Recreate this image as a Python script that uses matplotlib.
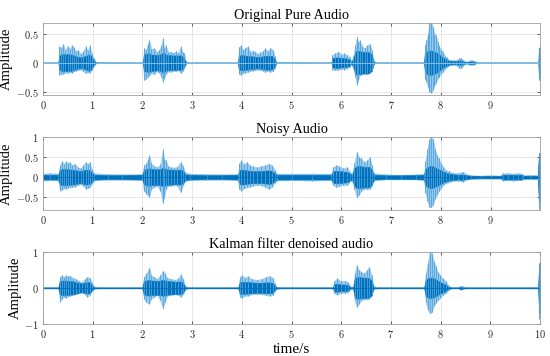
import matplotlib
matplotlib.use("Agg")
import matplotlib.pyplot as plt
import numpy as np

# envelope of each waveform:
# time knot (s), upper peak, lower peak, half-width of the dense core
t_orig = [0.00, 0.31, 0.33, 0.37, 0.41, 0.45, 0.50, 0.54, 0.58, 0.62, 0.66, 0.71, 0.76, 0.81, 0.86, 0.90, 0.94, 0.98, 1.02, 1.07,
          2.01, 2.03, 2.07, 2.11, 2.14, 2.18, 2.24, 2.29, 2.34, 2.38, 2.41, 2.44, 2.47, 2.52, 2.57, 2.62, 2.67, 2.72, 2.77, 2.81, 2.84, 2.87, 2.90,
          3.92, 3.94, 3.98, 4.02, 4.07, 4.12, 4.17, 4.22, 4.27, 4.32, 4.37, 4.42, 4.47, 4.52, 4.57, 4.62, 4.66, 4.69,
          5.80, 5.82, 5.87, 5.94, 6.00, 6.06, 6.12, 6.17, 6.20, 6.24, 6.28, 6.31, 6.34, 6.37, 6.42, 6.47, 6.52, 6.57, 6.61, 6.64, 6.67,
          7.66, 7.68, 7.71, 7.74, 7.77, 7.81, 7.84, 7.87, 7.90, 7.94, 7.97, 8.01, 8.04, 8.08, 8.12, 8.17, 8.24, 8.30, 8.37, 8.41, 8.45, 8.51, 8.58, 8.63, 8.68, 8.72,
          9.96, 9.97, 9.99]
hi_orig = [0.008, 0.008, 0.28, 0.26, 0.32, 0.22, 0.29, 0.24, 0.30, 0.27, 0.20, 0.22, 0.15, 0.20, 0.28, 0.21, 0.30, 0.16, 0.08, 0.01,
           0.008, 0.25, 0.22, 0.33, 0.39, 0.24, 0.25, 0.18, 0.22, 0.30, 0.42, 0.25, 0.30, 0.18, 0.19, 0.17, 0.20, 0.16, 0.28, 0.18, 0.16, 0.03, 0.008,
           0.008, 0.27, 0.30, 0.22, 0.26, 0.28, 0.19, 0.21, 0.19, 0.15, 0.18, 0.20, 0.25, 0.20, 0.26, 0.22, 0.12, 0.01,
           0.008, 0.14, 0.16, 0.19, 0.14, 0.16, 0.13, 0.10, 0.03, 0.12, 0.30, 0.45, 0.35, 0.39, 0.28, 0.25, 0.30, 0.33, 0.22, 0.08, 0.008,
           0.008, 0.30, 0.39, 0.50, 0.69, 0.69, 0.62, 0.50, 0.48, 0.35, 0.28, 0.22, 0.19, 0.12, 0.09, 0.05, 0.05, 0.04, 0.08, 0.08, 0.05, 0.02, 0.04, 0.04, 0.03, 0.008,
           0.008, 0.25, 0.27]
lo_orig = [-0.008, -0.008, -0.21, -0.19, -0.20, -0.17, -0.18, -0.16, -0.18, -0.15, -0.14, -0.13, -0.12, -0.15, -0.18, -0.16, -0.18, -0.12, -0.06, -0.01,
           -0.008, -0.30, -0.28, -0.24, -0.22, -0.18, -0.20, -0.15, -0.17, -0.25, -0.33, -0.27, -0.20, -0.15, -0.16, -0.14, -0.15, -0.13, -0.18, -0.14, -0.10, -0.03, -0.008,
           -0.008, -0.20, -0.21, -0.18, -0.17, -0.16, -0.14, -0.14, -0.13, -0.12, -0.13, -0.14, -0.16, -0.14, -0.16, -0.15, -0.10, -0.01,
           -0.008, -0.12, -0.13, -0.12, -0.11, -0.12, -0.10, -0.08, -0.03, -0.10, -0.25, -0.38, -0.30, -0.22, -0.20, -0.20, -0.20, -0.18, -0.15, -0.06, -0.008,
           -0.008, -0.28, -0.33, -0.42, -0.50, -0.52, -0.47, -0.40, -0.35, -0.27, -0.24, -0.18, -0.16, -0.11, -0.08, -0.05, -0.04, -0.04, -0.09, -0.10, -0.05, -0.02, -0.04, -0.04, -0.03, -0.008,
           -0.008, -0.30, -0.30]
core_orig = [0.003, 0.003, 0.12, 0.14, 0.15, 0.14, 0.15, 0.14, 0.14, 0.13, 0.11, 0.10, 0.09, 0.10, 0.12, 0.13, 0.14, 0.10, 0.04, 0.004,
             0.003, 0.14, 0.15, 0.16, 0.16, 0.14, 0.14, 0.13, 0.14, 0.15, 0.17, 0.16, 0.14, 0.13, 0.13, 0.12, 0.13, 0.12, 0.13, 0.10, 0.07, 0.015, 0.003,
             0.003, 0.12, 0.13, 0.13, 0.12, 0.12, 0.11, 0.11, 0.10, 0.10, 0.10, 0.11, 0.12, 0.12, 0.12, 0.11, 0.07, 0.004,
             0.003, 0.08, 0.09, 0.09, 0.08, 0.08, 0.07, 0.05, 0.015, 0.07, 0.18, 0.21, 0.20, 0.20, 0.19, 0.18, 0.19, 0.17, 0.14, 0.04, 0.003,
             0.003, 0.15, 0.19, 0.20, 0.21, 0.21, 0.20, 0.19, 0.18, 0.16, 0.14, 0.11, 0.09, 0.07, 0.05, 0.03, 0.03, 0.025, 0.04, 0.04, 0.02, 0.01, 0.02, 0.025, 0.015, 0.003,
             0.003, 0.25, 0.27]

t_noisy = [0.00, 0.15, 0.31, 0.34, 0.38, 0.42, 0.46, 0.50, 0.54, 0.58, 0.64, 0.70, 0.76, 0.81, 0.86, 0.90, 0.94, 0.98, 1.03, 1.30, 1.60,
           2.00, 2.03, 2.08, 2.11, 2.14, 2.18, 2.24, 2.30, 2.36, 2.41, 2.44, 2.47, 2.52, 2.58, 2.64, 2.70, 2.77, 2.82, 2.86, 2.95, 3.30, 3.60,
           3.92, 3.95, 3.99, 4.04, 4.10, 4.16, 4.22, 4.30, 4.38, 4.46, 4.54, 4.60, 4.66, 4.70, 5.00, 5.40,
           5.80, 5.83, 5.90, 5.96, 6.04, 6.12, 6.18, 6.22, 6.26, 6.31, 6.35, 6.40, 6.46, 6.52, 6.57, 6.61, 6.65, 6.90, 7.20, 7.50,
           7.66, 7.69, 7.73, 7.77, 7.80, 7.84, 7.88, 7.92, 7.96, 8.00, 8.05, 8.10, 8.16, 8.25, 8.35, 8.44, 8.50, 8.60, 8.80, 9.00, 9.20,
           9.24, 9.35, 9.45, 9.55, 9.63, 9.66, 9.80, 9.95, 9.97, 9.99]
hi_noisy = [0.09, 0.10, 0.09, 0.30, 0.40, 0.33, 0.40, 0.36, 0.38, 0.30, 0.34, 0.25, 0.22, 0.30, 0.38, 0.33, 0.38, 0.20, 0.10, 0.08, 0.07,
            0.08, 0.30, 0.35, 0.45, 0.55, 0.35, 0.28, 0.25, 0.32, 0.70, 0.45, 0.42, 0.27, 0.25, 0.24, 0.26, 0.38, 0.28, 0.12, 0.09, 0.08, 0.07,
            0.08, 0.35, 0.42, 0.32, 0.38, 0.30, 0.27, 0.25, 0.27, 0.30, 0.34, 0.30, 0.18, 0.09, 0.09, 0.09,
            0.09, 0.25, 0.30, 0.27, 0.22, 0.25, 0.12, 0.10, 0.35, 0.64, 0.50, 0.47, 0.38, 0.42, 0.50, 0.30, 0.10, 0.07, 0.06, 0.07,
            0.09, 0.40, 0.72, 0.97, 1.00, 0.97, 0.72, 0.55, 0.47, 0.35, 0.25, 0.18, 0.15, 0.11, 0.10, 0.14, 0.08, 0.05, 0.04, 0.05, 0.04,
            0.10, 0.10, 0.09, 0.10, 0.09, 0.05, 0.06, 0.05, 0.60, 0.62]
lo_noisy = [-0.09, -0.08, -0.09, -0.34, -0.32, -0.28, -0.30, -0.27, -0.26, -0.25, -0.24, -0.20, -0.18, -0.22, -0.30, -0.28, -0.25, -0.17, -0.09, -0.07, -0.07,
            -0.08, -0.35, -0.42, -0.45, -0.50, -0.30, -0.25, -0.22, -0.35, -0.66, -0.50, -0.30, -0.22, -0.22, -0.20, -0.22, -0.38, -0.20, -0.10, -0.08, -0.07, -0.07,
            -0.08, -0.30, -0.34, -0.28, -0.26, -0.24, -0.22, -0.20, -0.21, -0.24, -0.30, -0.25, -0.14, -0.09, -0.08, -0.09,
            -0.08, -0.20, -0.25, -0.22, -0.20, -0.20, -0.10, -0.10, -0.30, -0.51, -0.45, -0.35, -0.30, -0.30, -0.30, -0.22, -0.09, -0.06, -0.06, -0.06,
            -0.08, -0.40, -0.60, -0.76, -0.76, -0.70, -0.55, -0.45, -0.35, -0.28, -0.20, -0.16, -0.13, -0.10, -0.09, -0.12, -0.07, -0.05, -0.04, -0.04, -0.04,
            -0.09, -0.08, -0.09, -0.08, -0.08, -0.05, -0.05, -0.05, -0.80, -0.80]
core_noisy = [0.06, 0.06, 0.06, 0.18, 0.20, 0.20, 0.21, 0.20, 0.19, 0.19, 0.18, 0.16, 0.15, 0.17, 0.19, 0.18, 0.17, 0.12, 0.06, 0.05, 0.05,
              0.06, 0.18, 0.20, 0.22, 0.22, 0.20, 0.20, 0.19, 0.20, 0.23, 0.22, 0.20, 0.19, 0.19, 0.18, 0.18, 0.19, 0.15, 0.07, 0.06, 0.05, 0.05,
              0.06, 0.17, 0.19, 0.18, 0.17, 0.16, 0.15, 0.15, 0.15, 0.16, 0.17, 0.16, 0.10, 0.06, 0.06, 0.06,
              0.06, 0.14, 0.16, 0.15, 0.14, 0.13, 0.08, 0.07, 0.22, 0.28, 0.28, 0.27, 0.26, 0.26, 0.25, 0.18, 0.06, 0.045, 0.045, 0.05,
              0.06, 0.20, 0.25, 0.27, 0.28, 0.27, 0.25, 0.22, 0.20, 0.17, 0.14, 0.11, 0.09, 0.07, 0.06, 0.07, 0.05, 0.035, 0.03, 0.03, 0.03,
              0.06, 0.06, 0.06, 0.06, 0.06, 0.035, 0.035, 0.035, 0.60, 0.60]

t_kalman = [0.00, 0.31, 0.34, 0.38, 0.42, 0.46, 0.50, 0.54, 0.60, 0.66, 0.72, 0.78, 0.84, 0.89, 0.94, 0.98, 1.03, 1.10,
            2.00, 2.03, 2.08, 2.14, 2.18, 2.24, 2.30, 2.36, 2.41, 2.45, 2.50, 2.58, 2.66, 2.72, 2.77, 2.82, 2.86, 2.90,
            3.93, 3.96, 4.00, 4.06, 4.12, 4.20, 4.30, 4.40, 4.48, 4.56, 4.62, 4.66, 4.70, 4.75,
            5.83, 5.86, 5.92, 6.00, 6.08, 6.14, 6.18, 6.24, 6.27, 6.31, 6.35, 6.40, 6.46, 6.52, 6.56, 6.61, 6.65, 6.70,
            7.67, 7.70, 7.74, 7.78, 7.82, 7.86, 7.90, 7.94, 7.99, 8.04, 8.10, 8.15, 8.20, 8.36, 8.40, 8.44, 8.48,
            9.96, 9.98, 10.00]
hi_kalman = [0.02, 0.02, 0.30, 0.35, 0.30, 0.35, 0.32, 0.34, 0.28, 0.25, 0.20, 0.15, 0.25, 0.30, 0.28, 0.15, 0.03, 0.02,
             0.02, 0.30, 0.40, 0.56, 0.35, 0.30, 0.25, 0.35, 0.47, 0.40, 0.28, 0.25, 0.22, 0.26, 0.37, 0.25, 0.06, 0.02,
             0.02, 0.30, 0.35, 0.28, 0.32, 0.25, 0.22, 0.25, 0.30, 0.33, 0.28, 0.12, 0.03, 0.02,
             0.02, 0.20, 0.26, 0.18, 0.20, 0.15, 0.04, 0.03, 0.40, 0.63, 0.50, 0.45, 0.40, 0.50, 0.58, 0.35, 0.05, 0.02,
             0.02, 0.40, 0.70, 1.00, 0.95, 0.75, 0.60, 0.44, 0.35, 0.26, 0.20, 0.08, 0.02, 0.02, 0.06, 0.04, 0.02,
             0.02, 0.68, 0.68]
lo_kalman = [-0.02, -0.02, -0.39, -0.30, -0.25, -0.28, -0.24, -0.22, -0.20, -0.18, -0.15, -0.13, -0.18, -0.25, -0.20, -0.10, -0.03, -0.02,
             -0.02, -0.30, -0.40, -0.44, -0.30, -0.25, -0.20, -0.35, -0.57, -0.40, -0.22, -0.20, -0.18, -0.20, -0.25, -0.18, -0.05, -0.02,
             -0.02, -0.25, -0.28, -0.22, -0.22, -0.18, -0.17, -0.18, -0.20, -0.22, -0.20, -0.10, -0.03, -0.02,
             -0.02, -0.15, -0.19, -0.14, -0.15, -0.12, -0.04, -0.03, -0.35, -0.53, -0.45, -0.35, -0.32, -0.32, -0.30, -0.22, -0.04, -0.02,
             -0.02, -0.40, -0.60, -0.71, -0.68, -0.50, -0.42, -0.34, -0.28, -0.20, -0.15, -0.07, -0.02, -0.02, -0.06, -0.04, -0.02,
             -0.02, -0.85, -0.85]
core_kalman = [0.012, 0.012, 0.18, 0.20, 0.20, 0.20, 0.20, 0.19, 0.18, 0.16, 0.14, 0.12, 0.14, 0.16, 0.15, 0.08, 0.015, 0.012,
               0.012, 0.18, 0.20, 0.22, 0.20, 0.20, 0.19, 0.20, 0.22, 0.21, 0.19, 0.18, 0.17, 0.17, 0.18, 0.13, 0.03, 0.012,
               0.012, 0.16, 0.17, 0.16, 0.16, 0.15, 0.14, 0.14, 0.15, 0.15, 0.14, 0.07, 0.015, 0.012,
               0.012, 0.10, 0.11, 0.09, 0.09, 0.08, 0.02, 0.015, 0.25, 0.30, 0.30, 0.29, 0.28, 0.28, 0.27, 0.20, 0.02, 0.012,
               0.012, 0.22, 0.26, 0.28, 0.28, 0.26, 0.24, 0.20, 0.16, 0.13, 0.09, 0.04, 0.012, 0.012, 0.04, 0.02, 0.012,
               0.012, 0.68, 0.68]

titles = ["Original Pure Audio", "Noisy Audio", "Kalman filter denoised audio"]
ylims = [(-0.56, 0.69), (-0.83, 1.0), (-1.0, 1.0)]
yticks = [[-0.5, 0, 0.5], [-0.5, 0, 0.5, 1], [-1, 0, 1]]
ytick_labels = [["$-0.5$", "$0$", "$0.5$"], ["$-0.5$", "$0$", "$0.5$", "$1$"], ["$-1$", "$0$", "$1$"]]

plt.rcParams['mathtext.fontset'] = 'cm'
plt.rcParams['font.family'] = 'Liberation Serif'

dark = '#0072BD'
light = '#80bde8'

fig = plt.figure(figsize=(5.5, 3.56), dpi=100)
boxes = [[0.078, 0.733, 0.904, 0.203],
         [0.078, 0.410, 0.904, 0.204],
         [0.078, 0.090, 0.904, 0.203]]
data = [(t_orig, hi_orig, lo_orig, core_orig),
        (t_noisy, hi_noisy, lo_noisy, core_noisy),
        (t_kalman, hi_kalman, lo_kalman, core_kalman)]

for i in range(3):
    ax = fig.add_axes(boxes[i])
    t, hi, lo, core = [np.array(a) for a in data[i]]
    # light outer peaks, spikes at every knot, dark dense core
    ax.fill_between(t, lo, hi, color=light, lw=0.3, edgecolor=light, alpha=0.8)
    ax.vlines(t, lo, hi, color='#4fa3dc', lw=0.6)
    ax.fill_between(t, -core, core, color=dark, lw=0.4, edgecolor=dark)
    ax.plot(t, np.zeros_like(t), color=light if i == 0 else dark, lw=0.7)

    ax.set_ylim(*ylims[i])
    ax.set_yticks(yticks[i])
    ax.set_yticklabels(ytick_labels[i])
    if i < 2:
        ax.set_xlim(0, 9.995)
        ax.set_xticks(range(10))
        ax.set_xticklabels(["$%d$" % k for k in range(10)])
    else:
        ax.set_xlim(0, 10)
        ax.set_xticks(range(11))
        ax.set_xticklabels(["$%d$" % k for k in range(11)])
        ax.set_xlabel("time/s", fontsize=11, labelpad=2)
    ax.set_title(titles[i], fontsize=10.2, pad=3)
    ax.set_ylabel("Amplitude", fontsize=10.5, labelpad=2)
    ax.grid(True, color='#e3e3e3', lw=0.6)
    ax.set_axisbelow(True)
    ax.tick_params(direction='in', top=True, right=True, length=2.5, width=0.5,
                   labelsize=7.5, colors='#262626', pad=3)
    for s in ax.spines.values():
        s.set_linewidth(0.6)
        s.set_color('#a0a0a0')

fig.savefig("out.png", dpi=100)
